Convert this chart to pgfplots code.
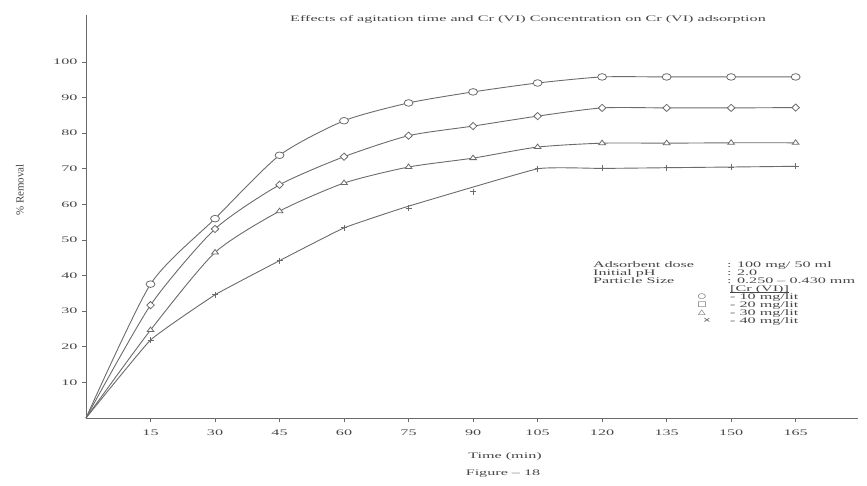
\documentclass[border=0pt]{standalone}
\usepackage{pgfplots}
\pgfplotsset{compat=1.18}
\usepackage{fontspec}
\setmainfont{Liberation Serif}[FakeStretch=1.9]
\newfontfamily\plainserif{Liberation Serif}
\newfontfamily\symfont{DejaVu Sans}[FakeStretch=1.4]
\definecolor{ln}{gray}{0.42}
\definecolor{tx}{gray}{0.28}
\begin{document}
\begin{tikzpicture}[x=1pt,y=1pt]
\path[use as bounding box] (0,0) rectangle (867,485);
\begin{axis}[
  at={(86pt,67pt)}, anchor=south west,
  scale only axis, width=772pt, height=403pt,
  xmin=0, xmax=179.5, ymin=0, ymax=113.2,
  axis lines=left, axis line style={ln, line width=1pt, -},
  xtick={15,30,45,60,75,90,105,120,135,150,165},
  ytick={10,20,30,40,50,60,70,80,90,100},
  tick align=outside, major tick length=4pt,
  tick style={ln, line width=0.8pt},
  /pgf/number format/assume math mode=true,
  ticklabel style={font=\fontsize{8.5}{10}\selectfont, text=tx},
  xticklabel style={yshift=-4pt},
  yticklabel style={xshift=-1pt},
  clip=false,
]
% 10 mg/lit
\addplot[ln, line width=0.9pt, smooth, tension=0.4, mark=*, mark size=3.3pt, mark indices={2,...,12},
  mark options={xscale=1.35, fill=white, line width=0.8pt}]
  coordinates {(0,0) (15,37.6) (30,56) (45,73.8) (60,83.5) (75,88.5) (90,91.6) (105,94.1) (120,95.8) (135,95.8) (150,95.8) (165,95.8)};
% 20 mg/lit
\addplot[ln, line width=0.9pt, smooth, tension=0.4, mark=diamond*, mark size=3.6pt, mark indices={2,...,12},
  mark options={xscale=1.4, fill=white, line width=0.8pt}]
  coordinates {(0,0) (15,31.7) (30,53.1) (45,65.5) (60,73.4) (75,79.3) (90,82) (105,84.8) (120,87.1) (135,87.1) (150,87.1) (165,87.2)};
% 30 mg/lit
\addplot[ln, line width=0.9pt, smooth, tension=0.4, mark=triangle*, mark size=3pt, mark indices={2,...,12},
  mark options={xscale=1.3, fill=white, line width=0.8pt}]
  coordinates {(0,0) (15,24.7) (30,46.5) (45,58.1) (60,66) (75,70.5) (90,73) (105,76.1) (120,77.2) (135,77.2) (150,77.3) (165,77.3)};
% 40 mg/lit (line)
\addplot[ln, line width=0.9pt, smooth, tension=0.2]
  coordinates {(0,0) (15,21.9) (30,34.6) (45,44.2) (60,53.4) (75,59.5) (105,70) (120,70.1) (135,70.3) (150,70.5) (165,70.7)};
% 40 mg/lit (marks)
\addplot[ln, only marks, mark=+, mark size=3pt, mark options={line width=0.9pt}]
  coordinates {(15,21.9) (30,34.6) (45,44.2) (60,53.4) (75,59) (90,63.5) (105,70) (120,70.1) (135,70.3) (150,70.5) (165,70.7)};
\end{axis}
% title and labels
\node[text=tx, font=\fontsize{8.5}{10}\selectfont] at (528,466) {Effects of agitation time and Cr (VI) Concentration on Cr (VI) adsorption};
\node[text=tx, font=\fontsize{8.5}{10}\selectfont] at (505,29) {Time (min)};
\node[text=tx, font=\fontsize{8.5}{10}\selectfont] at (503,11) {Figure -- 18};
\node[text=tx, rotate=90, font=\plainserif\fontsize{11}{12}\selectfont] at (20,295) {\% Removal};
% legend block
\begin{scope}[every node/.style={text=tx, font=\fontsize{8.5}{9}\selectfont, anchor=base west, inner sep=0pt}]
\node at (593,217.5) {Adsorbent dose};
\node at (593,209.5) {Initial pH};
\node at (593,201.5) {Particle Size};
\node at (727,217.5) {: 100 mg/ 50 ml};
\node at (727,209.5) {: 2.0};
\node at (727,201.5) {: 0.250 -- 0.430 mm};
\node at (730,193.8) {\underline{\smash{[Cr (VI)]}}};
\node at (730,185.5) {- 10 mg/lit};
\node at (730,177.8) {- 20 mg/lit};
\node at (730,169.8) {- 30 mg/lit};
\node at (730,162) {- 40 mg/lit};
\end{scope}
\begin{scope}[every node/.style={text=tx, font=\symfont\fontsize{7}{8}\selectfont, inner sep=0pt}]
\node at (702,188) {○};
\node at (702,180.3) {□};
\node at (702,172.2) {△};
\node at (707,164.5) {×};
\end{scope}
\end{tikzpicture}
\end{document}
